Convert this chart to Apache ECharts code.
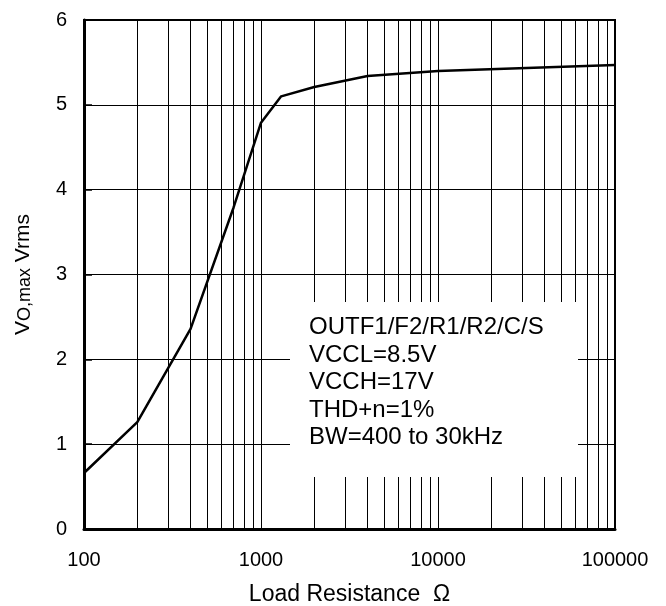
<!DOCTYPE html>
<html>
<head>
<meta charset="utf-8">
<script src="https://cdn.jsdelivr.net/npm/echarts@6/dist/echarts.min.js"></script>
<style>html,body{margin:0;padding:0;background:#fff}#c{width:666px;height:606px}</style>
</head>
<body>
<div id="c"></div>
<script>
// Load resistance (ohm) and max output voltage (Vrms)
var loadResistance = [100, 200, 400, 700, 1000, 1300, 2000, 4000, 10000, 100000];
var voMax = [0.66, 1.26, 2.36, 3.79, 4.79, 5.10, 5.21, 5.34, 5.40, 5.47];
// log-axis minor grid positions
var minorGrid = [200, 300, 400, 500, 600, 700, 800, 900,
                 2000, 3000, 4000, 5000, 6000, 7000, 8000, 9000,
                 20000, 30000, 40000, 50000, 60000, 70000, 80000, 90000];
var noteLines = ['OUTF1/F2/R1/R2/C/S', 'VCCL=8.5V', 'VCCH=17V', 'THD+n=1%', 'BW=400 to 30kHz'];

var FONT = '"Liberation Sans", Arial, sans-serif';
var chart = echarts.init(document.getElementById('c'), null, {renderer: 'canvas'});
chart.setOption({
  animation: false,
  backgroundColor: '#fff',
  textStyle: {fontFamily: FONT},
  grid: {left: 84, right: 51, top: 20, bottom: 77, containLabel: false, outerBoundsMode: 'none',
         show: true, borderColor: '#000', borderWidth: 2, backgroundColor: 'transparent'},
  xAxis: {
    type: 'log', logBase: 10, min: 100, max: 100000,
    name: 'Load Resistance  \u03A9', nameLocation: 'middle', nameGap: 54,
    nameTextStyle: {fontSize: 23, color: '#000', fontFamily: FONT},
    axisLine: {lineStyle: {color: '#000', width: 3}},
    axisTick: {show: false},
    minorTick: {show: false},
    axisLabel: {fontSize: 20, color: '#000', margin: 21, fontFamily: FONT,
      formatter: function (v) { return String(Math.round(v)); }},
    splitLine: {show: true, lineStyle: {color: '#000', width: 1}}
  },
  yAxis: {
    type: 'value', min: 0, max: 6, interval: 1,
    name: '{v|V}{s|O,max}{v| Vrms}', nameLocation: 'middle', nameGap: 50, nameRotate: 90,
    nameTextStyle: {color: '#000', fontFamily: FONT,
      rich: {v: {fontSize: 21, lineHeight: 21, verticalAlign: 'bottom', fontFamily: FONT, color: '#000'},
             s: {fontSize: 18, lineHeight: 18, verticalAlign: 'bottom', fontFamily: FONT, color: '#000'}}},
    axisLine: {show: true, lineStyle: {color: '#000', width: 3}},
    axisTick: {show: true, inside: true, length: 8, lineStyle: {color: '#000', width: 1.5}},
    axisLabel: {fontSize: 20, color: '#000', margin: 17, fontFamily: FONT},
    splitLine: {show: true, lineStyle: {color: '#000', width: 1}}
  },
  graphic: [
    {type: 'rect', z: 50, shape: {x: 290, y: 302, width: 288, height: 175}, style: {fill: '#fff'}, silent: true},
    {type: 'text', z: 51, x: 309, y: 314,
     style: {text: noteLines.join('\n'), fontSize: 24, lineHeight: 27.5, fill: '#000', fontFamily: FONT, textVerticalAlign: 'top'}}
  ],
  series: [
    {
      type: 'line', data: [], z: 1, silent: true,
      markLine: {
        silent: true, symbol: ['none', 'none'], animation: false,
        label: {show: false},
        lineStyle: {color: '#000', width: 1, type: 'solid'},
        data: minorGrid.map(function (v) { return {xAxis: v}; })
      }
    },
    {
      type: 'line', z: 10,
      data: loadResistance.map(function (x, i) { return [x, voMax[i]]; }),
      showSymbol: false, symbol: 'none',
      lineStyle: {color: '#000', width: 2.5},
      itemStyle: {color: '#000'}
    }
  ]
});
</script>
</body>
</html>
